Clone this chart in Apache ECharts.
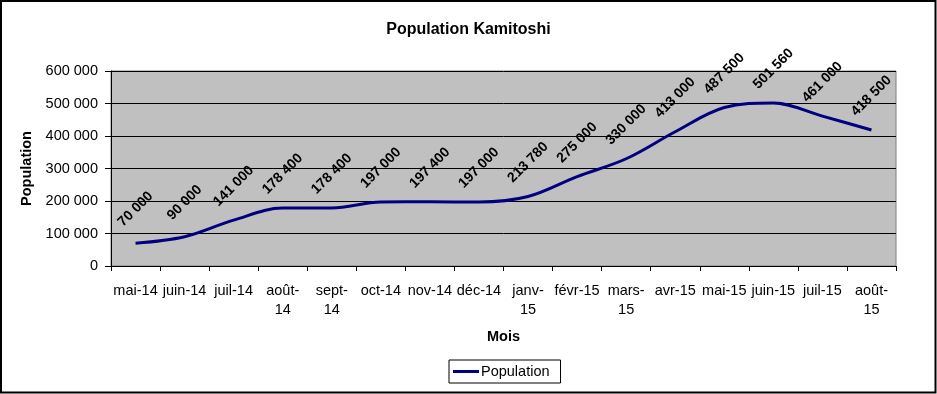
<!DOCTYPE html>
<html>
<head>
<meta charset="utf-8">
<script src="https://cdn.jsdelivr.net/npm/echarts@6/dist/echarts.min.js"></script>
<style>
html,body{margin:0;padding:0;background:#fff;}
#chart{width:937px;height:394px;}
</style>
</head>
<body>
<div id="chart"></div>
<script>
const categories = ['mai-14','juin-14','juil-14','août-\n14','sept-\n14','oct-14','nov-14','déc-14','janv-\n15','févr-15','mars-\n15','avr-15','mai-15','juin-15','juil-15','août-\n15'];
const population = [70000, 90000, 141000, 178400, 178400, 197000, 197400, 197000, 213780, 275000, 330000, 413000, 487500, 501560, 461000, 418500];
const yMin = 0, yMax = 600000, yStep = 100000;

const FONT = 'Arial, "Liberation Sans", sans-serif';
function fmt(v){ return String(v).replace(/\B(?=(\d{3})+(?!\d))/g, ' '); }

const chart = echarts.init(document.getElementById('chart'));
chart.setOption({
  animation: false,
  backgroundColor: '#fff',
  textStyle: { fontFamily: FONT },
  title: {
    text: 'Population Kamitoshi',
    left: 'center', top: 17,
    textStyle: { fontFamily: FONT, fontSize: 16, fontWeight: 'bold', color: '#000' }
  },
  graphic: [{
    type: 'rect', silent: true, z: -1,
    shape: { x: 1, y: 1, width: 934.5, height: 391.5 },
    style: { fill: 'none', stroke: '#000', lineWidth: 2 }
  }],
  legend: {
    left: 449, top: 360,
    backgroundColor: '#fff', borderColor: '#000', borderWidth: 1, borderRadius: 0,
    padding: [4, 11, 4, 4],
    itemWidth: 26, itemHeight: 3, icon: 'rect', itemGap: 5,
    textStyle: { fontFamily: FONT, fontSize: 14.5, color: '#000', padding: [0,0,0,-3] },
    data: ['Population']
  },
  grid: {
    left: 111, right: 41, top: 71, bottom: 128,
    show: true, backgroundColor: '#C0C0C0', borderColor: '#808080', borderWidth: 1
  },
  xAxis: {
    type: 'category', data: categories, boundaryGap: true,
    name: 'Mois', nameLocation: 'middle', nameGap: 63,
    nameTextStyle: { fontFamily: FONT, fontSize: 14.5, fontWeight: 'bold', color: '#000' },
    axisLine: { lineStyle: { color: '#000', width: 1 } },
    axisTick: { show: true, length: 5, alignWithLabel: false, lineStyle: { color: '#000' } },
    axisLabel: { interval: 0, margin: 15, fontFamily: FONT, fontSize: 14.5, color: '#000', lineHeight: 19 },
    splitLine: { show: false }
  },
  yAxis: {
    type: 'value', min: yMin, max: yMax, interval: yStep,
    name: 'Population', nameLocation: 'middle', nameGap: 72, nameRotate: 90,
    nameTextStyle: { fontFamily: FONT, fontSize: 14.5, fontWeight: 'bold', color: '#000' },
    axisLine: { show: true, lineStyle: { color: '#000', width: 1 } },
    axisTick: { show: true, length: 6, lineStyle: { color: '#000' } },
    axisLabel: { margin: 13, fontFamily: FONT, fontSize: 14.5, color: '#000', formatter: v => fmt(v) },
    splitLine: { show: true, lineStyle: { color: '#000', width: 1 } }
  },
  series: [{
    name: 'Population', type: 'line', data: population,
    smooth: 0.35,
    color: '#000080',
    symbol: 'circle', symbolSize: 0.1, showSymbol: true,
    lineStyle: { color: '#000080', width: 3 },
    itemStyle: { color: '#000080' },
    label: {
      show: true, position: 'top', distance: 34, rotate: 45,
      align: 'center', verticalAlign: 'middle',
      fontFamily: FONT, fontSize: 14, fontWeight: 'bold', color: '#000',
      formatter: p => fmt(p.value)
    },
    z: 3
  }]
});
</script>
</body>
</html>
